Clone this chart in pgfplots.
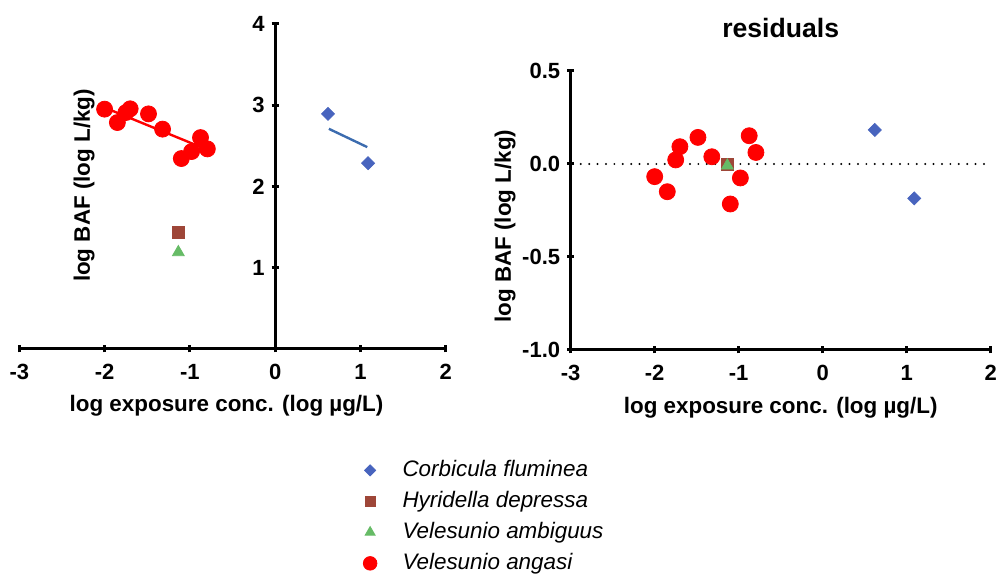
\documentclass[border=0pt]{standalone}
\usepackage{pgfplots}
\pgfplotsset{compat=1.18}
\usepackage{fontspec}
\setmainfont{Liberation Sans}
\definecolor{cblue}{RGB}{72,100,190}
\definecolor{cbline}{RGB}{60,108,175}
\definecolor{cbrown}{RGB}{158,70,56}
\definecolor{cgreen}{RGB}{102,187,102}
\definecolor{cred}{RGB}{255,0,0}
\pgfplotsset{
  common/.style={
    scale only axis,
    clip=false,
    every tick/.style={line width=1.5pt,black},
    major tick length=3.5pt,
    tick align=outside,
    tick label style={font=\bfseries\fontsize{11}{13}\selectfont},
    xticklabel style={yshift=-2.5pt},
  },
  nolinearrows/.style={
    axis line style={line width=1.5pt,-},
    every outer x axis line/.append style={-},
    every outer y axis line/.append style={-},
    every inner x axis line/.append style={-},
    every inner y axis line/.append style={-},
  },
  pblue/.style={only marks, mark=square*, mark size=2.3pt, mark options={rotate=45, fill=cblue, draw=cblue}},
  pbrown/.style={only marks, mark=square*, mark size=3pt, mark options={fill=cbrown, draw=cbrown}},
  pgreen/.style={only marks, mark=triangle*, mark size=3.4pt, mark options={fill=cgreen, draw=cgreen}},
  pred/.style={only marks, mark=*, mark size=4.0pt, mark options={fill=cred, draw=cred}},
}
\begin{document}
\begin{tikzpicture}
\useasboundingbox (0,0) rectangle (499pt,289pt);
% ---------------- left panel ----------------
\begin{axis}[common,
  at={(9.65pt,114.5pt)}, anchor=south west,
  width=213.2pt, height=162.5pt,
  xmin=-3, xmax=2, ymin=0, ymax=4,
  axis x line=bottom, axis y line=middle,
  nolinearrows,
  xtick={-3,-2,-1,0,1,2}, xticklabels={-3,-2,-1,0,1,2},
  ytick={1,2,3,4}, yticklabels={1,2,3,4},
  xlabel={log exposure conc. (log µg/L)},
  ylabel={log BAF (log L/kg)},
  every axis x label/.style={at={(axis description cs:0.486,-0.175)}, anchor=center, font=\bfseries\fontsize{11.2}{13}\selectfont},
  every axis y label/.style={at={(axis description cs:0.152,0.503)}, anchor=center, rotate=90, font=\bfseries\fontsize{11.2}{13}\selectfont},
  legend style={at={(axis description cs:0.767,-0.326)}, anchor=north west, draw=none, fill=none,
    font=\itshape\fontsize{11.2}{13}\selectfont, row sep=4.5pt, column sep=0pt,
    nodes={inner sep=0pt, text height=8.5pt, text depth=2.5pt}},
  legend cell align=left,
  legend image code/.code={\draw[#1, mark size=0.85*\pgfplotmarksize] plot coordinates {(8.5pt,0pt)}; \path (0pt,0pt) (24.5pt,0pt);},
]
\addplot[cred, line width=1.2pt, forget plot] coordinates {(-1.99,2.967) (-0.80,2.455)};
\addplot[cbline, line width=1.2pt, forget plot] coordinates {(0.63,2.71) (1.08,2.485)};
\addplot[pblue] coordinates {(0.62,2.894) (1.09,2.287)};
\addlegendentry{Corbicula fluminea}
\addplot[pbrown] coordinates {(-1.135,1.44)};
\addlegendentry{Hyridella depressa}
\addplot[pgreen] coordinates {(-1.135,1.19)};
\addlegendentry{Velesunio ambiguus}
\addplot[pred] table {
-2.00 2.952
-1.85 2.787
-1.75 2.910
-1.70 2.956
-1.485 2.894
-1.32 2.706
-1.10 2.344
-0.98 2.430
-0.875 2.602
-0.795 2.463
};
\addlegendentry{Velesunio angasi}
\end{axis}
% ---------------- right panel ----------------
\begin{axis}[common,
  at={(285.35pt,114pt)}, anchor=south west,
  width=210pt, height=139.5pt,
  xmin=-3, xmax=2, ymin=-1, ymax=0.5,
  axis x line=bottom, axis y line=left,
  nolinearrows,
  xtick={-3,-2,-1,0,1,2}, xticklabels={-3,-2,-1,0,1,2},
  ytick={-1,-0.5,0,0.5}, yticklabels={-1.0,-0.5,0.0,0.5},
  xlabel={log exposure conc. (log µg/L)},
  ylabel={log BAF (log L/kg)},
  every axis x label/.style={at={(axis description cs:0.5,-0.208)}, anchor=center, font=\bfseries\fontsize{11.2}{13}\selectfont},
  every axis y label/.style={at={(axis description cs:-0.156,0.444)}, anchor=center, rotate=90, font=\bfseries\fontsize{11.2}{13}\selectfont},
  title={residuals},
  title style={at={(axis description cs:0.5,1.111)}, anchor=center, font=\bfseries\fontsize{13.3}{15}\selectfont},
]
\addplot[black, line width=1.1pt, line cap=round, dash pattern=on 0pt off 4.2pt] coordinates {(-2.98,0) (2,0)};
\addplot[pblue] coordinates {(0.62,0.183) (1.09,-0.185)};
\addplot[pbrown] coordinates {(-1.135,0)};
\addplot[pgreen] coordinates {(-1.135,-0.009)};
\addplot[pred] table {
-2.00 -0.068
-1.85 -0.149
-1.75 0.022
-1.70 0.093
-1.485 0.143
-1.32 0.039
-1.10 -0.215
-0.98 -0.075
-0.875 0.152
-0.795 0.062
};
\end{axis}
\end{tikzpicture}
\end{document}
